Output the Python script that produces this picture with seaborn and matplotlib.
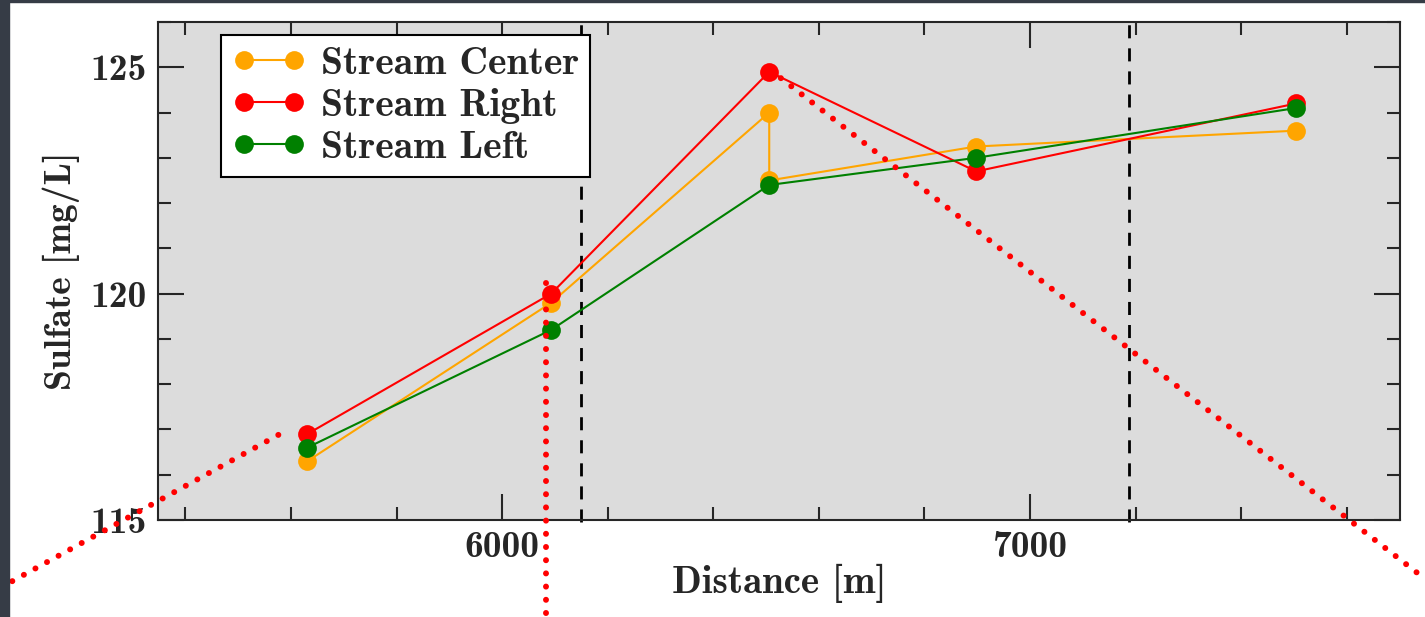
import numpy as np
import pandas as pd
import seaborn as sns
import matplotlib.pyplot as plt
from matplotlib.patches import Rectangle
from matplotlib.ticker import MultipleLocator

# sample distances along the stream [m]
center_x = [5631, 6093, 6506, 6506, 6898, 7504]
center_y = [116.3, 119.8, 124.0, 122.5, 123.25, 123.6]
right_x = [5631, 6093, 6506, 6898, 7504]
right_y = [116.9, 120.0, 124.9, 122.7, 124.2]
left_x = [5631, 6093, 6506, 6898, 7504]
left_y = [116.6, 119.2, 122.4, 123.0, 124.1]

series_names = ['Stream Center', 'Stream Right', 'Stream Left']
series_colors = ['orange', 'red', 'green']

# reach boundaries
boundaries = [6150, 7187]

# connector lines to the overview map (data coords, drawn outside axes)
connectors = [
    ([5576, 5030], [116.88, 113.38]),
    ([6084, 6084], [120.24, 112.5]),
    ([6528, 7777], [124.76, 113.44]),
]

FS = 27

sns.set_style('ticks')
plt.rcParams['font.family'] = ['cmb10', 'DejaVu Serif']
plt.rcParams['axes.unicode_minus'] = False
plt.rcParams['mathtext.fontset'] = 'cm'

fig = plt.figure(figsize=(14.25, 6.17), dpi=100)
fig.patches.append(Rectangle((0, 0), 9 / 1425, 1, transform=fig.transFigure,
                             color='#363c46', zorder=0))
fig.patches.append(Rectangle((0, 1 - 2 / 617), 1, 2 / 617, transform=fig.transFigure,
                             color='#363c46', zorder=0))
ax = fig.add_axes([158 / 1425, 1 - 520 / 617, 1242 / 1425, 498 / 617])
ax.set_facecolor('#dcdcdc')

frames = [
    pd.DataFrame({'Distance': center_x, 'Sulfate': center_y}),
    pd.DataFrame({'Distance': right_x, 'Sulfate': right_y}),
    pd.DataFrame({'Distance': left_x, 'Sulfate': left_y}),
]
for df, name, col in zip(frames, series_names, series_colors):
    sns.lineplot(data=df, x='Distance', y='Sulfate', ax=ax, sort=False, estimator=None,
                 color=col, marker='o', markersize=13.5, markeredgewidth=0, linewidth=1.5,
                 label=name, zorder=3)

for b in boundaries:
    ax.axvline(b, ymin=-0.005, ymax=1.0, color='black', lw=2, dashes=(4.7, 3.6),
               clip_on=False, zorder=2)

for cx, cy in connectors:
    ax.plot(cx, cy, color='red', lw=4.3, linestyle=(0, (0.01, 2.2)),
            dash_capstyle='round', clip_on=False, zorder=4)

ax.set_xlim(5348, 7701)
ax.set_ylim(115, 126)
ax.xaxis.set_major_locator(MultipleLocator(1000))
ax.xaxis.set_minor_locator(MultipleLocator(200))
ax.yaxis.set_major_locator(MultipleLocator(5))
ax.yaxis.set_minor_locator(MultipleLocator(1))
ax.tick_params(which='both', direction='in', top=True, right=True, labelsize=FS,
               width=1.5, pad=8)
ax.tick_params(which='major', length=19)
ax.tick_params(which='minor', length=9.5)
for s in ax.spines.values():
    s.set_linewidth(1.5)

ax.set_xlabel('Distance [m]', fontsize=28, labelpad=0)
ax.set_ylabel('Sulfate [mg/L]', fontsize=FS, labelpad=8)

leg = ax.legend(loc='upper left', bbox_to_anchor=(0.0507, 0.974), borderaxespad=0,
                numpoints=2, fontsize=28.5, fancybox=False, framealpha=1,
                edgecolor='black', handlelength=1.86, handletextpad=0.38,
                labelspacing=0.16, borderpad=0.28)
leg.get_frame().set_linewidth(1.5)
leg.set_zorder(5)

fig.savefig('out.png', dpi=100)
